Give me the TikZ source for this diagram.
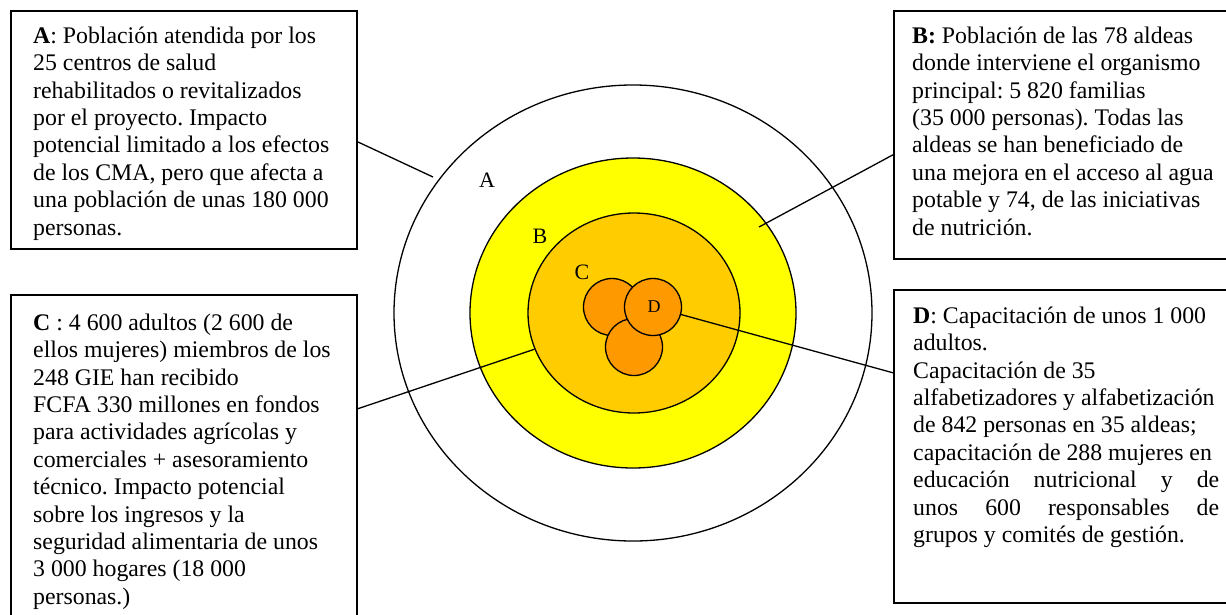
\documentclass[tikz,border=0pt]{standalone}
\usepackage{fontspec}
\setmainfont{Liberation Serif}
\usetikzlibrary{shapes.geometric}
\definecolor{ringyellow}{HTML}{FFFF00}
\definecolor{ringgold}{HTML}{FFCC00}
\definecolor{dotorange}{HTML}{FF9900}
\frenchspacing
\begin{document}
\begin{tikzpicture}[x=1pt,y=-1pt,
  boxframe/.style={draw, line width=1.6pt, inner sep=0pt, anchor=north west},
  txt/.style={anchor=north west, inner sep=0pt, align=left, font=\fontsize{23.8}{27.4}\selectfont},
  ring/.style={draw, ellipse, line width=1.3pt, inner sep=0pt},
  dot/.style={draw, circle, line width=1.3pt, inner sep=0pt, minimum size=57pt, fill=dotorange},
  conn/.style={line width=1.3pt},
  lbl/.style={font=\fontsize{22}{22}\selectfont, inner sep=0pt}]
\useasboundingbox (0,0) rectangle (1226,614);
\clip (0,0) rectangle (1226,614);
\fill[white] (0,0) rectangle (1226,614);

% target rings
\node[ring, fill=white, minimum width=478pt, minimum height=456pt] (outer) at (633,313) {};
\node[ring, fill=ringyellow, minimum width=326pt, minimum height=310pt] (mid) at (633,313) {};
\node[ring, fill=ringgold, minimum width=212pt, minimum height=200pt] (inner) at (634,313) {};
\node[dot] (dotL) at (612,307) {};
\node[dot] (dotB) at (634,347) {};
\node[dot] (dotD) at (653,307) {};

% ring labels
\node[lbl] (lA) at (487,180) {A};
\node[lbl] (lB) at (540,236) {B};
\node[lbl] (lC) at (582,272) {C};
\node[lbl, font=\fontsize{18}{18}\selectfont] (lD) at (654,307) {D};

% boxes
\node[boxframe, minimum width=346pt, minimum height=238pt] (boxA) at (10,10) {};
\node[boxframe, minimum width=345pt, minimum height=248pt] (boxB) at (893,10) {};
\node[boxframe, minimum width=346pt, minimum height=330pt] (boxC) at (10,294) {};
\node[boxframe, minimum width=345pt, minimum height=313pt] (boxD) at (893,289) {};

% connectors
\coordinate (aEnd) at (433,177);
\coordinate (bEnd) at (759,227);
\draw[conn] ([yshift=-12pt]boxA.east) -- (aEnd);
\draw[conn] ([yshift=-20pt]boxB.west) -- (bEnd);
\draw[conn] ([yshift=51pt]boxC.east) -- (inner.200);
\draw[conn] (dotD.-15) -- ([yshift=73.5pt]boxD.west);

% texts
\node[txt] (tA) at (33,24) {\strut\textbf{A}: Población atendida por los\\
25 centros de salud\\
rehabilitados o revitalizados\\
por el proyecto. Impacto\\
potencial limitado a los efectos\\
de los CMA, pero que afecta a\\
una población de unas 180 000\\
personas.};

\node[txt] (tB) at (912,24) {\strut\textbf{B:} Población de las 78 aldeas\\
donde interviene el organismo\\
principal: 5 820 familias\\
(35 000 personas). Todas las\\
aldeas se han beneficiado de\\
una mejora en el acceso al agua\\
potable y 74, de las iniciativas\\
de nutrición.};

\node[txt] (tC) at (33,311) {\strut\textbf{C} : 4 600 adultos (2 600 de\\
ellos mujeres) miembros de los\\
248 GIE han recibido\\
FCFA 330 millones en fondos\\
para actividades agrícolas y\\
comerciales + asesoramiento\\
técnico. Impacto potencial\\
sobre los ingresos y la\\
seguridad alimentaria de unos\\
3 000 hogares (18 000\\
personas.)};

\node[txt] (tD) at (913,304) {\strut\textbf{D}: Capacitación de unos 1 000\\
adultos.\\
Capacitación de 35\\
alfabetizadores y alfabetización\\
de 842 personas en 35 aldeas;\\
capacitación de 288 mujeres en\\
\makebox[306pt][s]{educación nutricional y de}\\
\makebox[306pt][s]{unos 600 responsables de}\\
grupos y comités de gestión.};
\end{tikzpicture}
\end{document}
